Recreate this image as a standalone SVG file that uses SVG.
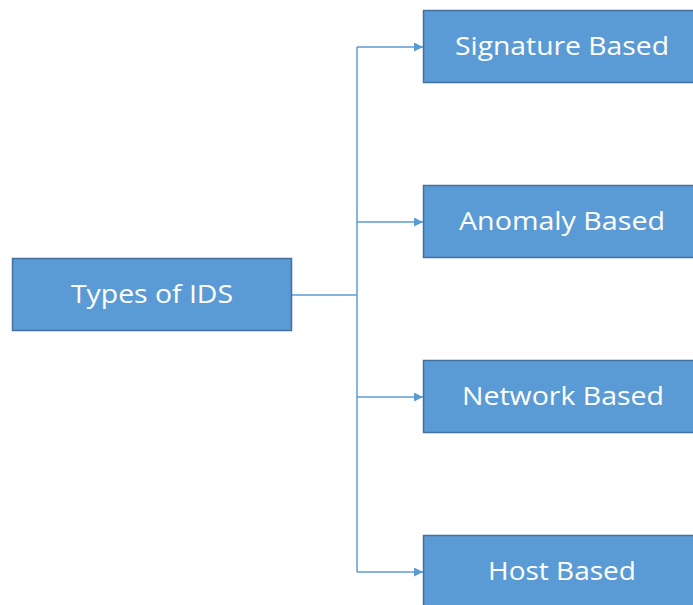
<svg xmlns="http://www.w3.org/2000/svg" width="693" height="605" viewBox="0 0 693 605">
  <style>
    .box { fill: #5B9BD5; stroke: #41719C; stroke-width: 1.5; }
    .label { fill: #ffffff; font-family: "Open Sans", "Liberation Sans", sans-serif; font-size: 25px; text-anchor: middle; dominant-baseline: central; }
    .link { fill: none; stroke: #5B9BD5; stroke-width: 1.5; }
  </style>
  <defs>
    <marker id="arrow" viewBox="0 0 10 10" refX="10" refY="5" markerWidth="9" markerHeight="9" markerUnits="userSpaceOnUse" orient="auto">
      <path d="M0,0 L10,5 L0,10 Z" fill="#5B9BD5"/>
    </marker>
  </defs>
  <rect width="693" height="605" fill="#ffffff"/>

  <g id="connectors">
    <path class="link" d="M292,295 H357"/>
    <path class="link" d="M357,47 V572"/>
    <path class="link" d="M357,47 H423" marker-end="url(#arrow)"/>
    <path class="link" d="M357,222 H423" marker-end="url(#arrow)"/>
    <path class="link" d="M357,397 H423" marker-end="url(#arrow)"/>
    <path class="link" d="M357,572 H423" marker-end="url(#arrow)"/>
  </g>

  <g id="types-of-ids">
    <rect class="box" x="12.5" y="258.5" width="279" height="72"/>
    <text class="label" x="152" y="293" textLength="162" lengthAdjust="spacingAndGlyphs">Types of IDS</text>
  </g>
  <g id="signature-based">
    <rect class="box" x="423.5" y="10.5" width="280" height="72"/>
    <text class="label" x="562" y="45" textLength="214" lengthAdjust="spacingAndGlyphs">Signature Based</text>
  </g>
  <g id="anomaly-based">
    <rect class="box" x="423.5" y="185.5" width="280" height="72"/>
    <text class="label" x="562" y="220" textLength="206" lengthAdjust="spacingAndGlyphs">Anomaly Based</text>
  </g>
  <g id="network-based">
    <rect class="box" x="423.5" y="360.5" width="280" height="72"/>
    <text class="label" x="563" y="395" textLength="202" lengthAdjust="spacingAndGlyphs">Network Based</text>
  </g>
  <g id="host-based">
    <rect class="box" x="423.5" y="535.5" width="280" height="80"/>
    <text class="label" x="562" y="570" textLength="148" lengthAdjust="spacingAndGlyphs">Host Based</text>
  </g>
</svg>
